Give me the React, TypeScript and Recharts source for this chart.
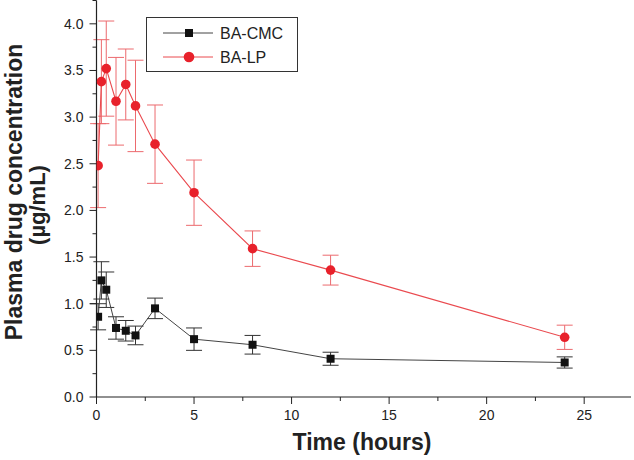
import React from 'react';
import { LineChart, Line, XAxis, YAxis, ErrorBar, Legend } from 'recharts';

const times = [0.083, 0.25, 0.5, 1, 1.5, 2, 3, 5, 8, 12, 24];
const cmcValues = [0.86, 1.25, 1.15, 0.74, 0.71, 0.66, 0.95, 0.62, 0.56, 0.41, 0.37];
const cmcErrors = [0.14, 0.2, 0.19, 0.12, 0.11, 0.1, 0.11, 0.12, 0.1, 0.07, 0.06];
const lpValues = [2.48, 3.38, 3.52, 3.17, 3.35, 3.12, 2.71, 2.19, 1.59, 1.36, 0.64];
const lpErrors = [0.45, 0.45, 0.51, 0.47, 0.38, 0.49, 0.42, 0.35, 0.19, 0.16, 0.13];

const xTicks = [0, 2.5, 5, 7.5, 10, 12.5, 15, 17.5, 20, 22.5, 25];
const xLabels = [0, 5, 10, 15, 20, 25];
const yTicks = [0, 0.25, 0.5, 0.75, 1, 1.25, 1.5, 1.75, 2, 2.25, 2.5, 2.75, 3, 3.25, 3.5, 3.75, 4, 4.25];
const yLabels = [0, 0.5, 1, 1.5, 2, 2.5, 3, 3.5, 4];

const seriesNames = ['BA-CMC', 'BA-LP'];

const data = times.map((t, i) => ({
  t,
  cmc: cmcValues[i],
  cmcErr: cmcErrors[i],
  lp: lpValues[i],
  lpErr: lpErrors[i],
}));

const RED = '#e8212b';
const RED_LINE = '#ea4a4f';
const RED_ERR = '#ec6a6e';
const BLACK = '#111111';
const GRAY_LINE = '#444444';
const FONT = '"Liberation Sans", Arial, sans-serif';

const XTick = (props: any) => {
  const { x, y, payload } = props;
  const v = payload.value;
  const major = xLabels.includes(v);
  return (
    <g>
      <line x1={x} x2={x} y1={y} y2={y + (major ? 7 : 4)} stroke="#222" strokeWidth={1} />
      {major && (
        <text x={x} y={y + 23} textAnchor="middle" fontSize={14} fill="#222" fontFamily={FONT}>
          {v}
        </text>
      )}
    </g>
  );
};

const YTick = (props: any) => {
  const { x, y, payload } = props;
  const v = payload.value;
  const major = yLabels.includes(v);
  return (
    <g>
      <line x1={x} x2={x - (major ? 7 : 4)} y1={y} y2={y} stroke="#222" strokeWidth={1} />
      {major && (
        <text x={x - 13} y={y + 5} textAnchor="end" fontSize={14} fill="#222" fontFamily={FONT}>
          {v.toFixed(1)}
        </text>
      )}
    </g>
  );
};

const SquareDot = (props: any) => {
  const { cx, cy, index } = props;
  if (cx == null || cy == null) return <g key={`s-${index}`} />;
  return <rect key={`s-${index}`} x={cx - 4} y={cy - 4} width={8} height={8} fill={BLACK} />;
};

const CircleDot = (props: any) => {
  const { cx, cy, index } = props;
  if (cx == null || cy == null) return <g key={`c-${index}`} />;
  return <circle key={`c-${index}`} cx={cx} cy={cy} r={4.8} fill={RED} />;
};

const LegendBox = () => (
  <div
    style={{
      width: 152,
      height: 55,
      border: '1.3px solid #333',
      background: '#fff',
      boxSizing: 'border-box',
      position: 'relative',
      fontFamily: FONT,
    }}
  >
    <svg width={152} height={55} style={{ position: 'absolute', left: 0, top: 0 }}>
      <line x1={16} x2={66} y1={15} y2={15} stroke={GRAY_LINE} strokeWidth={1} />
      <rect x={38} y={11} width={8} height={8} fill={BLACK} />
      <text x={73} y={21} fontSize={16} fill="#222" fontFamily={FONT}>{seriesNames[0]}</text>
      <line x1={16} x2={66} y1={39} y2={39} stroke={RED_LINE} strokeWidth={1} />
      <circle cx={42} cy={39} r={5.3} fill={RED} />
      <text x={73} y={45} fontSize={16} fill="#222" fontFamily={FONT}>{seriesNames[1]}</text>
    </svg>
  </div>
);

export default function App() {
  return (
    <div style={{ position: 'absolute', left: 0, top: 0, width: 634, height: 460, background: '#fff' }}>
      <LineChart
        width={634}
        height={460}
        data={data}
        margin={{ top: 0.5, right: 3, bottom: 33, left: 36.5 }}
      >
        <XAxis
          dataKey="t"
          type="number"
          domain={[0, 27.4]}
          ticks={xTicks}
          interval={0}
          tick={<XTick />}
          tickLine={false}
          tickSize={0}
          tickMargin={0}
          height={30}
          axisLine={{ stroke: '#222', strokeWidth: 1.2 }}
          allowDataOverflow
        />
        <YAxis
          type="number"
          domain={[0, 4.25]}
          ticks={yTicks}
          interval={0}
          tick={<YTick />}
          tickLine={false}
          tickSize={0}
          tickMargin={0}
          width={60}
          axisLine={{ stroke: '#222', strokeWidth: 1.2 }}
          allowDataOverflow
        />
        <Legend
          layout="vertical"
          align="center"
          verticalAlign="middle"
          content={() => <LegendBox />}
          wrapperStyle={{ position: 'absolute', left: 146, top: 16.5, width: 152, height: 55 }}
        />
        <Line
          name={seriesNames[0]}
          dataKey="cmc"
          stroke={GRAY_LINE}
          strokeWidth={1}
          dot={SquareDot}
          activeDot={false}
          isAnimationActive={false}
        >
          <ErrorBar dataKey="cmcErr" width={8} stroke="#333" strokeWidth={1} direction="y" />
        </Line>
        <Line
          name={seriesNames[1]}
          dataKey="lp"
          stroke={RED_LINE}
          strokeWidth={1.1}
          dot={CircleDot}
          activeDot={false}
          isAnimationActive={false}
        >
          <ErrorBar dataKey="lpErr" width={8} stroke={RED_ERR} strokeWidth={1} direction="y" />
        </Line>
        <text
          x={362}
          y={450}
          textAnchor="middle"
          fontSize={23}
          fontWeight="bold"
          fill="#222"
          fontFamily={FONT}
        >
          Time (hours)
        </text>
        <text
          transform="translate(21.5,192) rotate(-90)"
          textAnchor="middle"
          fontSize={23}
          fontWeight="bold"
          fill="#222"
          fontFamily={FONT}
        >
          Plasma drug concentration
        </text>
        <text
          transform="translate(44.5,205) rotate(-90)"
          textAnchor="middle"
          fontSize={22}
          fontWeight="bold"
          fill="#222"
          fontFamily={FONT}
        >
          (µg/mL)
        </text>
      </LineChart>
    </div>
  );
}
